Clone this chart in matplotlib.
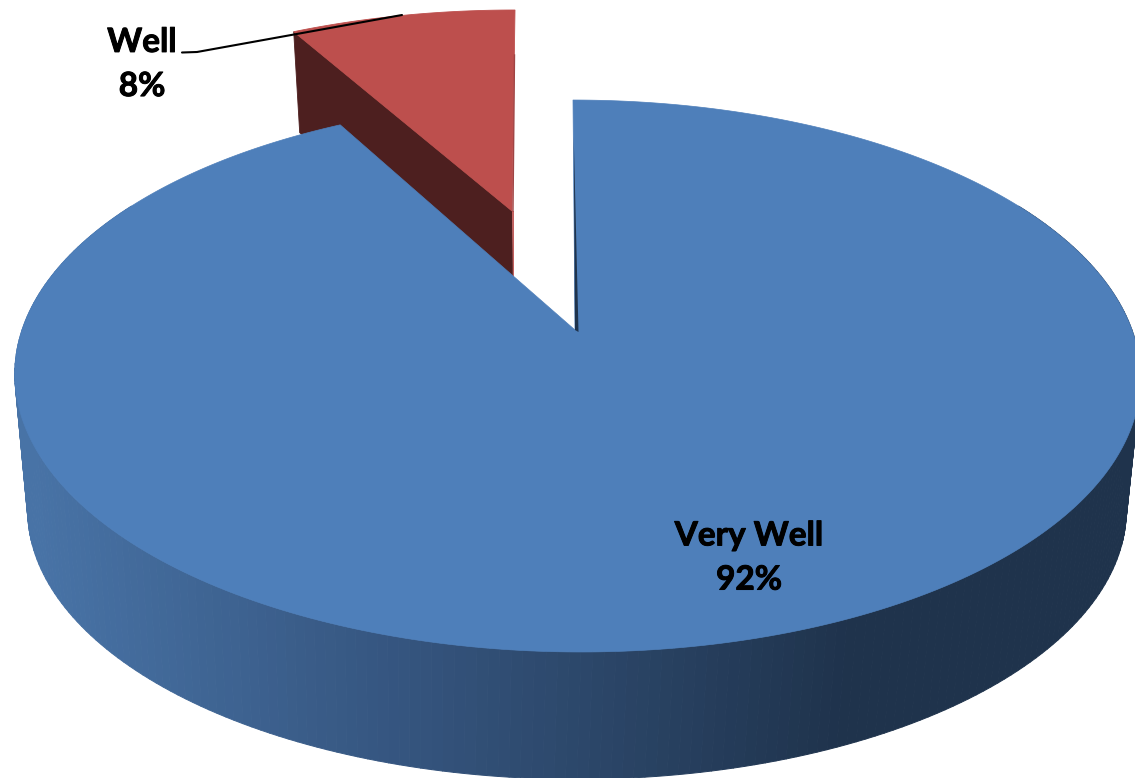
import numpy as np
import matplotlib
matplotlib.use("Agg")
import matplotlib.pyplot as plt
import matplotlib.patheffects as pe
from matplotlib.collections import PolyCollection
from matplotlib.colors import LinearSegmentedColormap
from matplotlib.patches import Polygon

categories = ["Very Well", "Well"]
values = [92, 8]

BLUE_TOP = "#4e7fba"
RED_TOP = "#bd4f4d"
RED_DARK = "#4d1f1f"

fig = plt.figure(figsize=(11.35, 7.78), dpi=100, facecolor="white")
ax = fig.add_axes([0, 0, 1, 1])
ax.set_xlim(0, 1135)
ax.set_ylim(778, 0)
ax.axis("off")

# perspective projection of the pie disc
CX, CY, R, H, K, SHEAR = 577.0, 330.0, 555.0, 268.3, 1 / 6, 4.0
BOTTOM_SCALE, BOTTOM_CY = 0.976, 465.0


def raw(theta, r=1.0):
    u = r * np.sin(theta)
    v = -r * np.cos(theta)
    d = 1 - K * v
    return R * u / d, H * v / d, v


def top(theta, r=1.0):
    dx, dy, v = raw(theta, r)
    return np.column_stack([CX + dx + SHEAR * v, CY + dy])


def bottom(theta):
    dx, dy, v = raw(theta)
    return np.column_stack([CX + BOTTOM_SCALE * dx, BOTTOM_CY + BOTTOM_SCALE * dy])


fraction_well = values[1] / sum(values)
cut = 2 * np.pi * fraction_well
th_blue = np.linspace(0, 2 * np.pi - cut, 500)
th_red = np.linspace(-cut, 0, 80)

# --- exploded red slice ---
RX, RY, RSX, RSY, RSHEAR = 512.0, 211.0, 0.947, 0.874, 3.0
dx, dy, v = raw(th_red)
red_rim = np.column_stack([RX + RSX * dx - RSHEAR * v, RY + RSY * dy])
apex = np.array([RX, RY])
corner = red_rim[0]
corner_low = corner + np.array([6, 101])
apex_low = apex + np.array([1, 96])
ax.add_patch(Polygon([corner, apex, apex_low, corner_low], closed=True,
                     fc=RED_DARK, ec=RED_DARK, lw=0.6, zorder=1))
ax.add_patch(Polygon(np.vstack([[apex], red_rim]), closed=True,
                     fc=RED_TOP, ec=RED_TOP, lw=0.6, zorder=2))
ax.add_patch(Polygon([apex, apex + [2.0, 0], apex + [2.0, 70], apex + [0.5, 70]],
                     closed=True, fc="#c4605e", ec="none", zorder=2))
ax.plot([red_rim[-1][0] - 0.5, RX + 1], [red_rim[-1][1] + 45, RY], color="#a04444",
        lw=1.0, zorder=3)

# --- blue side wall with shading by x ---
cmap = LinearSegmentedColormap.from_list(
    "wall", [(0.0, "#4873a6"), (0.45, "#35557f"), (1.0, "#1f334c")])
th_wall = np.radians(np.linspace(60, 300, 241))
t_pts, b_pts = top(th_wall), bottom(th_wall)
quads, cols = [], []
for i in range(len(th_wall) - 1):
    quads.append([t_pts[i], t_pts[i + 1], b_pts[i + 1], b_pts[i]])
    xm = (t_pts[i][0] + t_pts[i + 1][0]) / 2
    cols.append(cmap(np.clip((xm - 30) / (850 - 30), 0, 1)))
ax.add_collection(PolyCollection(quads, facecolors=cols, edgecolors=cols,
                                 linewidths=0.7, zorder=4))

# --- blue top surface ---
blue_rim = top(th_blue)
centre = np.array([[CX - 2, CY]])
ax.add_patch(Polygon(np.vstack([centre, blue_rim]), closed=True,
                     fc=BLUE_TOP, ec=BLUE_TOP, lw=0.5, zorder=5))

# thin dark cut face on the blue slice
sl_top = top(np.array([0.0]), 0.82)[0]
ax.add_patch(Polygon([sl_top, [CX + 1.5, CY + 2], [CX - 2, CY]], closed=True,
                     fc="#1f334c", ec="none", zorder=6))

# --- leader line and labels ---
ax.plot([182, 197, 402], [52.5, 52, 15], color="black", lw=1.5, zorder=7,
        solid_capstyle="round")
label_kw = dict(family=["Lato", "DejaVu Sans"], fontweight="bold", fontsize=24,
                color="black", ha="center", va="center", linespacing=1.63, zorder=8,
                path_effects=[pe.withStroke(linewidth=0.7, foreground="black")])
ax.text(142, 64.5, f"{categories[1]}\n{values[1]}%", **label_kw)
ax.text(749, 558, f"{categories[0]}\n{values[0]}%", **label_kw)

fig.savefig("out.png", dpi=100, facecolor="white")
